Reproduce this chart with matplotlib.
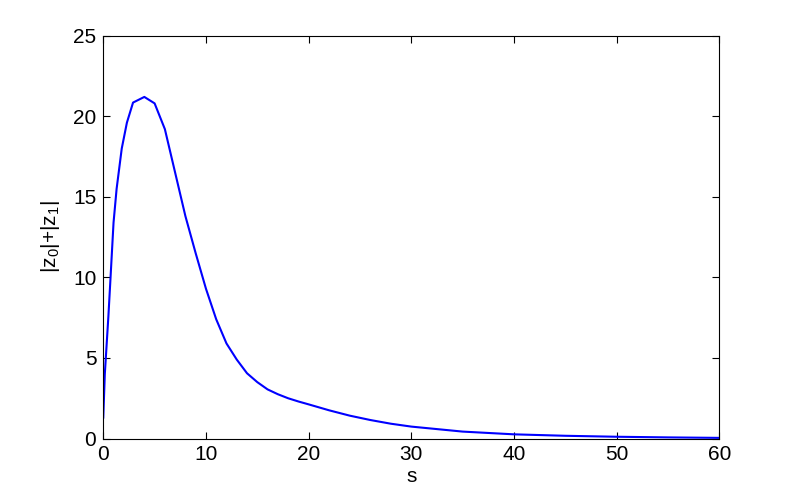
import matplotlib
matplotlib.use("Agg")
import matplotlib.pyplot as plt

# values
s_vals = [0, 0.15, 0.5, 0.7, 1.0, 1.3, 1.8, 2.3, 2.9, 4.0, 5.0, 6.0,
          7, 8, 9, 10, 11, 12, 13, 14, 15, 16, 17, 18, 19, 20, 22,
          24, 26, 28, 30, 35, 40, 45, 50, 55, 60]
z_vals = [1.3, 4.0, 7.6, 9.9, 13.4, 15.5, 18.0, 19.6, 20.85, 21.2,
          20.8, 19.2, 16.5, 13.8, 11.5, 9.3, 7.4, 5.9, 4.9, 4.05,
          3.5, 3.05, 2.75, 2.5, 2.3, 2.12, 1.75, 1.42, 1.15, 0.92,
          0.74, 0.43, 0.26, 0.17, 0.11, 0.07, 0.04]
x_ticks = [0, 10, 20, 30, 40, 50, 60]
y_ticks = [0, 5, 10, 15, 20, 25]

plt.rcParams["font.family"] = ["Liberation Sans", "DejaVu Sans"]
plt.rcParams["mathtext.default"] = "regular"

fig = plt.figure(figsize=(7.95, 4.93), dpi=100)
ax = fig.add_axes([0.1299, 0.1105, 0.7749, 0.8171])
ax.plot(s_vals, z_vals, color="#0000ff", lw=1.5)

ax.set_xlim(0, 60)
ax.set_ylim(0, 25)
ax.set_xticks(x_ticks)
ax.set_yticks(y_ticks)
ax.tick_params(direction="in", length=5, width=0.8, top=True, right=True,
               labelsize=15, pad=5)
for sp in ax.spines.values():
    sp.set_linewidth(0.8)

ax.set_xlabel("s", fontsize=15, labelpad=2)
ax.set_ylabel(r"|z$_0$|+|z$_1$|", fontsize=15, labelpad=8)

fig.savefig("out.png", dpi=100)
